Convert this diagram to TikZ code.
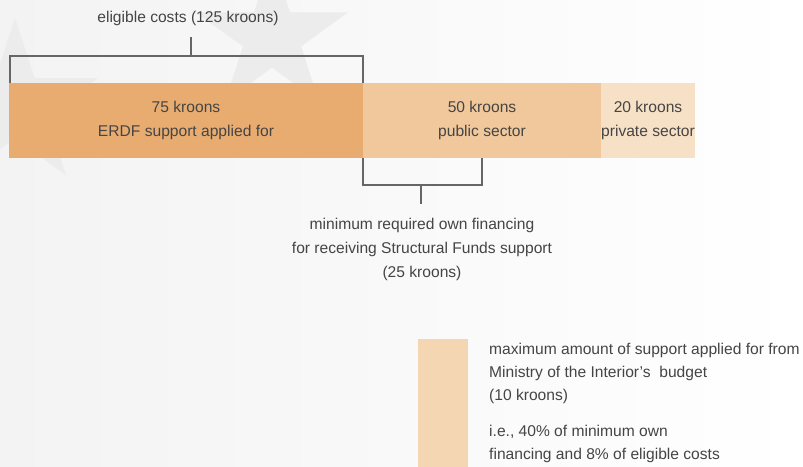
\documentclass[tikz,border=0pt]{standalone}
\usepackage{fontspec}
\setmainfont{Liberation Sans}
\usetikzlibrary{shapes.geometric}
\definecolor{bgL}{HTML}{F3F3F3}
\definecolor{starc}{HTML}{ECECEC}
\definecolor{barA}{HTML}{E8AC70}
\definecolor{barB}{HTML}{F0C89B}
\definecolor{barC}{HTML}{F7E1C6}
\definecolor{swc}{HTML}{F5D6B2}
\definecolor{txtc}{HTML}{454545}
\definecolor{linec}{HTML}{666666}
\begin{document}
\begin{tikzpicture}[x=1pt,y=-1pt,
  txt/.style={text=txtc, font=\fontsize{15.6}{24}\selectfont, inner sep=0pt},
  ctxt/.style={txt, align=center},
  ltxt/.style={text=txtc, font=\fontsize{15.6}{23}\selectfont, inner sep=0pt, align=left, anchor=north west},
  barbox/.style={fill=#1, draw=none, inner sep=0pt, minimum height=75pt, ctxt},
  brk/.style={draw=linec, line width=1.25pt},
  bgstar/.style={star, star points=5, star point ratio=2.618, fill=starc, draw=none, inner sep=0pt}]
\useasboundingbox (0,0) rectangle (803,466);
\shade[left color=bgL, right color=white] (0,0) rectangle (803,466);
% background stars
\node[bgstar, minimum size=174pt] (s1) at (15,105) {};
\node[bgstar, minimum size=160pt] (s2) at (272,37) {};
% brackets
\coordinate (tl) at (10,83);
\coordinate (tb) at (191,56);
\coordinate (ts) at (191,37);
\coordinate (bl) at (363,158);
\coordinate (br) at (482,158);
\coordinate (bm) at (421,185);
\coordinate (bs) at (421,204);
\draw[brk] (tl) -- ++(0,-27) -| (363,83);
\draw[brk] (tb) -- (ts);
\draw[brk] (bl) -- ++(0,27) -| (br);
\draw[brk] (bm) -- (bs);
% bars
\node[barbox=barA, minimum width=354pt] (b1) at (186,120.5) {75 kroons\\ERDF support applied for};
\node[barbox=barB, minimum width=238pt] (b2) at (482,120.5) {50 kroons\\public sector};
\node[barbox=barC, minimum width=94pt] (b3) at (648,120.5) {20 kroons\\private sector};
% labels
\node[ctxt] (elig) at (188,18) {eligible costs (125 kroons)};
\node[ctxt] (minf) at (422,249) {minimum required own financing\\for receiving Structural Funds support\\(25 kroons)};
% legend
\node[fill=swc, draw=none, inner sep=0pt, minimum width=50pt, minimum height=128pt, anchor=north west] (sw) at (418,339) {};
\node[ltxt] (lg1) at (489,342.6) {maximum amount of support applied for from\\Ministry of the Interior’s\ \ budget\\(10 kroons)};
\node[ltxt] (lg2) at (489,424.6) {i.e., 40\% of minimum own\\financing and 8\% of eligible costs};
\end{tikzpicture}
\end{document}
